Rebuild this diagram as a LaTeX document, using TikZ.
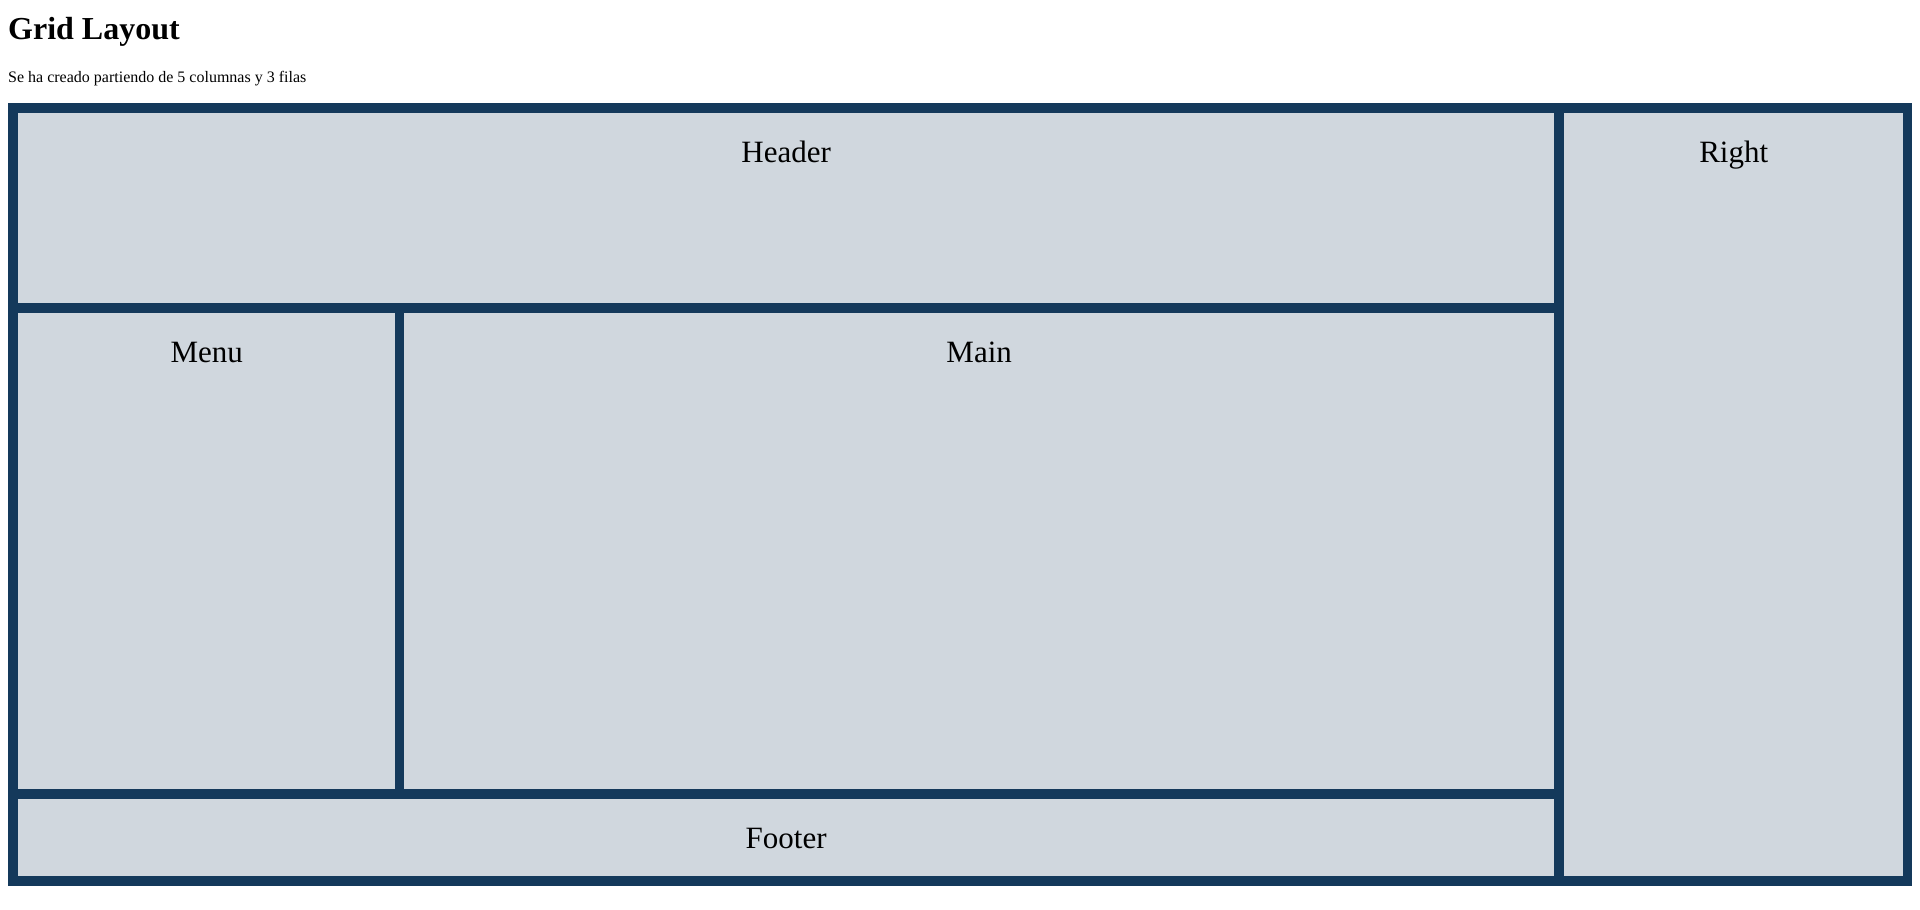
\documentclass[tikz,border=0pt]{standalone}
\usepackage{fontspec}
\setmainfont{Liberation Serif}
\usepackage{xcolor}
\usetikzlibrary{positioning}
\definecolor{gridnavy}{RGB}{20, 57, 91}
\definecolor{cellgray}{RGB}{208, 215, 222}

\tikzset{
  cell/.style={fill=cellgray, draw=none, anchor=north west, inner sep=0pt},
  celltext/.style={anchor=base, inner sep=0pt, yshift=-49pt, font=\fontsize{31}{36}\selectfont}
}

\begin{document}
\begin{tikzpicture}[x=1pt, y=-1pt]
    \fill[white] (0,0) rectangle (1920,910);
    \useasboundingbox (0,0) rectangle (1920,910);
    % heading
    \node[anchor=base west, inner sep=0pt, font=\fontsize{32}{38}\selectfont\bfseries] (title) at (8,39) {Grid Layout};
    \node[anchor=base west, inner sep=0pt, font=\fontsize{16}{19}\selectfont] (subtitle) at (8,82) {Se ha creado partiendo de 5 columnas y 3 filas};
    % grid container
    \node[fill=gridnavy, anchor=north west, inner sep=0pt, minimum width=1904pt, minimum height=783pt] (grid) at (8,103) {};
    % cells
    \node[cell, minimum width=1536pt, minimum height=190pt] (header) at (18,113) {};
    \node[cell, minimum width=339pt, minimum height=763pt] (right) at (1564,113) {};
    \node[cell, minimum width=377pt, minimum height=476pt] (menu) at (18,313) {};
    \node[cell, minimum width=1150pt, minimum height=476pt] (main) at (404,313) {};
    \node[cell, minimum width=1536pt, minimum height=77pt] (footer) at (18,799) {};
    % labels
    \node[celltext] (headertext) at (header.north) {Header};
    \node[celltext] (righttext) at (right.north) {Right};
    \node[celltext] (menutext) at (menu.north) {Menu};
    \node[celltext] (maintext) at (main.north) {Main};
    \node[celltext] (footertext) at (footer.north) {Footer};
\end{tikzpicture}
\end{document}
